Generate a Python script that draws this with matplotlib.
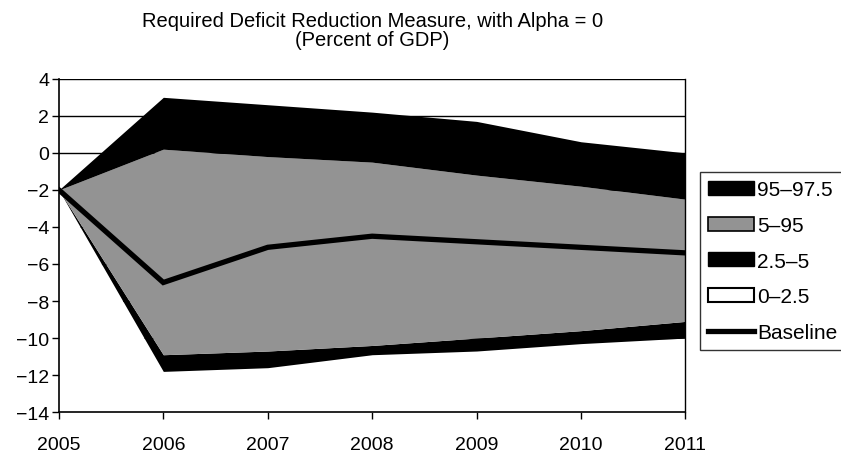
import matplotlib.pyplot as plt
from matplotlib.patches import Patch
from matplotlib.lines import Line2D

plt.rcParams['font.family'] = ['Liberation Sans', 'DejaVu Sans']

# Percentile bands of the required measure (percent of GDP)
years = [2005, 2006, 2007, 2008, 2009, 2010, 2011]
p2_5 = [-2.0, -11.8, -11.6, -10.9, -10.7, -10.3, -10.0]
p5 = [-2.0, -10.9, -10.7, -10.4, -10.0, -9.6, -9.1]
p95 = [-2.0, 0.2, -0.2, -0.5, -1.2, -1.8, -2.5]
p97_5 = [-2.0, 3.0, 2.6, 2.2, 1.7, 0.6, 0.0]
baseline = [-2.0, -7.0, -5.1, -4.5, -4.8, -5.1, -5.4]

yticks = list(range(-14, 5, 2))
legend_labels = ['95\u201397.5', '5\u201395', '2.5\u20135', '0\u20132.5', 'Baseline']

gray = '#939393'

fig = plt.figure(figsize=(8.41, 4.56), dpi=100)
ax = fig.add_axes([0.070, 0.094, 0.745, 0.731])

for y in yticks:
    ax.axhline(y, color='black', lw=1.0, zorder=1)

ax.fill_between(years, -14, p2_5, color='white', lw=0, zorder=2)
ax.fill_between(years, p2_5, p5, color='black', lw=0, zorder=2)
ax.fill_between(years, p5, p95, color=gray, lw=0, zorder=2)
ax.fill_between(years, p95, p97_5, color='black', lw=0, zorder=2)
ax.plot(years, baseline, color='black', lw=3.8, zorder=3, solid_joinstyle='miter')

ax.set_xlim(2005, 2011)
ax.set_ylim(-14, 4)
ax.set_yticks(yticks)
ax.set_yticklabels([str(v).replace('-', '\u2212') for v in yticks])
ax.set_xticks(years)
ax.tick_params(axis='both', labelsize=14, direction='out', length=5, width=1, color='black')
ax.tick_params(axis='x', pad=12)
ax.tick_params(axis='y', pad=2)
ax.spines['top'].set_visible(False)
ax.spines['right'].set_linewidth(1.0)
ax.spines['left'].set_linewidth(1.2)
ax.spines['bottom'].set_linewidth(1.2)

ax.set_title('Required Deficit Reduction Measure, with Alpha = 0\n(Percent of GDP)',
             fontsize=14.5, pad=24, linespacing=1.0)

handles = [
    Patch(facecolor='black', edgecolor='black'),
    Patch(facecolor=gray, edgecolor='black', lw=1.2),
    Patch(facecolor='black', edgecolor='black'),
    Patch(facecolor='white', edgecolor='black', lw=1.5),
    Line2D([0], [0], color='black', lw=3.8),
]
leg = fig.legend(handles, legend_labels, loc='upper left',
                 bbox_to_anchor=(700 / 841, 1 - 173 / 456),
                 fontsize=15, frameon=True, fancybox=False, edgecolor='black',
                 handlelength=2.2, handleheight=0.65, handletextpad=0.15,
                 labelspacing=0.8, borderpad=0.4, borderaxespad=0)
leg.get_frame().set_linewidth(1.0)

fig.savefig('out.png', dpi=100)
